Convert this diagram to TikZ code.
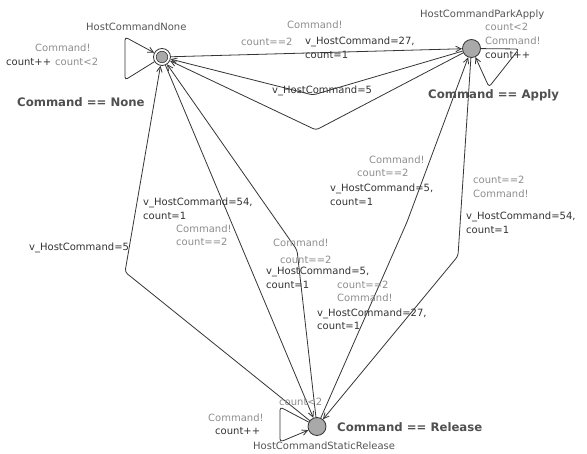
\documentclass[tikz,border=0pt]{standalone}
\usepackage{fontspec}
\setmainfont{DejaVu Sans}
\usetikzlibrary{arrows.meta}
\definecolor{guardc}{HTML}{8E8E8E}
\definecolor{updc}{HTML}{333333}
\definecolor{namec}{HTML}{555555}
\definecolor{invc}{HTML}{505050}
\definecolor{edgec}{HTML}{353535}
\definecolor{locfill}{HTML}{A9A9A9}
\begin{document}
\begin{tikzpicture}[x=1pt,y=-1pt,
  loc/.style={circle, draw=edgec, line width=0.8pt, fill=locfill, minimum size=18pt, inner sep=0pt},
  edge/.style={draw=edgec, line width=0.8pt, rounded corners=3pt, -{Straight Barb[length=5.5pt,width=5.5pt]}},
  lbl/.style={anchor=west, inner sep=0pt, font=\fontsize{10}{12}\selectfont, text height=7.5pt, text depth=2pt},
  grd/.style={lbl, text=guardc},
  upd/.style={lbl, text=updc},
  lname/.style={lbl, text=namec},
  inv/.style={anchor=west, inner sep=0pt, font=\fontsize{11.7}{14}\selectfont\bfseries, text=invc},
]
\fill[white] (0,0) rectangle (587,454);
\useasboundingbox (0,0) rectangle (587,454);

% locations
\node[loc, fill=white, minimum size=17pt] (N) at (162,57) {};
\node[circle, fill=locfill, draw=edgec, line width=0.6pt, minimum size=11.5pt, inner sep=0pt] (Nin) at (N) {};
\node[loc] (A) at (471.5,48.5) {};
\node[loc] (R) at (317,426.5) {};

% self loops
\coordinate (nl1) at (125,80);
\coordinate (nl2) at (125,37);
\draw[edge] (N) -- (nl1) -- (nl2) -- (N);
\coordinate (al1) at (519,49);
\coordinate (al2) at (489,87);
\draw[edge] (A) -- (al1) -- (al2) -- (A);
\coordinate (rl1) at (280,407);
\coordinate (rl2) at (280,442);
\draw[edge] (R) -- (rl1) -- (rl2) -- (R);

% transitions
\draw[edge] (N) -- (A);
\coordinate (wAN1) at (313,95);
\draw[edge] (A) -- (wAN1) -- (N);
\coordinate (wAN2) at (316,130);
\draw[edge] (A) -- (wAN2) -- (N);
\coordinate (wRN1) at (125,272);
\draw[edge] (R) -- (wRN1) -- (N);
\draw[edge] (N) -- (R);
\coordinate (wRN2) at (297,250);
\draw[edge] (R) -- (wRN2) -- (N);
\coordinate (wRA) at (407,222);
\draw[edge] (R) -- (wRA) -- (A);
\coordinate (wAR) at (458,256);
\draw[edge] (A) -- (wAR) -- (R);

% location names and invariants
\node[lname] (nN) at (86,28) {HostCommandNone};
\node[inv] (iN) at (17,102) {Command == None};
\node[lname] (nA) at (420,15) {HostCommandParkApply};
\node[inv] (iA) at (428,95) {Command == Apply};
\node[lname] (nR) at (253,447) {HostCommandStaticRelease};
\node[inv] (iR) at (337,427) {Command == Release};

% loop labels
\node[grd] (lN1) at (35,49) {Command!};
\node[upd] (lN2) at (6,63) {count++};
\node[grd] (lN3) at (55,63) {count<2};
\node[grd] (lA1) at (485,28) {count<2};
\node[grd] (lA2) at (485,42) {Command!};
\node[upd] (lA3) at (485,56) {count++};
\node[grd] (lR1) at (279,403) {count<2};
\node[grd] (lR2) at (208,419) {Command!};
\node[upd] (lR3) at (215,432) {count++};

% N -> A
\node[grd] (tNA1) at (287,26) {Command!};
\node[grd] (tNA2) at (241,43) {count==2};
\node[upd] (tNA3) at (305,42) {v\_HostCommand=27,};
\node[upd] (tNA4) at (305,56) {count=1};

% A -> N
\node[upd] (tAN1) at (272,91) {v\_HostCommand=5};
\node[grd] (tAN2) at (369,161) {Command!};
\node[grd] (tAN3) at (357,174) {count==2};
\node[upd] (tAN4) at (330,189) {v\_HostCommand=5,};
\node[upd] (tAN5) at (330,203) {count=1};

% N -> R
\node[upd] (tNR1) at (143,203) {v\_HostCommand=54,};
\node[upd] (tNR2) at (143,217) {count=1};
\node[grd] (tNR3) at (176,230) {Command!};
\node[grd] (tNR4) at (176,243) {count==2};

% R -> N
\node[upd] (tRN1) at (29,248) {v\_HostCommand=5};
\node[grd] (tRN2) at (273,244) {Command!};
\node[grd] (tRN3) at (280,261) {count==2};
\node[upd] (tRN4) at (266,272) {v\_HostCommand=5,};
\node[upd] (tRN5) at (266,286) {count=1};

% A -> R
\node[grd] (tAR1) at (473,181) {count==2};
\node[grd] (tAR2) at (473,195) {Command!};
\node[upd] (tAR3) at (466,217) {v\_HostCommand=54,};
\node[upd] (tAR4) at (466,231) {count=1};

% R -> A
\node[grd] (tRA1) at (337,286) {count==2};
\node[grd] (tRA2) at (337,299) {Command!};
\node[upd] (tRA3) at (317,314) {v\_HostCommand=27,};
\node[upd] (tRA4) at (317,327) {count=1};
\end{tikzpicture}
\end{document}
